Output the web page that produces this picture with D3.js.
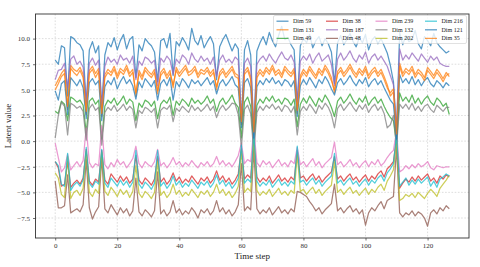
<!DOCTYPE html>
<html>
<head>
<meta charset="utf-8">
<script src="https://cdn.jsdelivr.net/npm/d3@7"></script>
<style>
  body { margin: 0; background: #fff; }
  svg { display: block; font-family: "Liberation Serif", "DejaVu Serif", serif; }
</style>
</head>
<body>
<div id="chart"></div>
<script>
// Latent dimensions over time
const dimNames = ["Dim 59", "Dim 131", "Dim 49", "Dim 38", "Dim 187", "Dim 48",
                  "Dim 239", "Dim 132", "Dim 202", "Dim 216", "Dim 121", "Dim 35"]
const xTicks = [0, 20, 40, 60, 80, 100, 120]
const yTicks = [-7.5, -5.0, -2.5, 0.0, 2.5, 5.0, 7.5, 10.0]

const dim59 = [7.9,7.5,9.3,9.1,4.4,10.2,10.0,9.6,9.4,8.8,3.6,8.9,9.7,8.6,9.3,3.2,
  8.4,9.6,9.2,10.1,8.9,9.8,10.4,9.0,9.9,10.2,6.2,9.4,8.8,10.0,9.6,9.3,
  8.7,5.8,9.8,10.0,9.1,10.5,6.4,9.7,9.3,10.1,9.6,8.9,11.0,9.8,9.4,10.3,
  9.1,9.7,10.2,9.5,6.0,9.2,9.9,10.4,9.6,8.8,9.5,9.0,1.8,8.9,9.8,8.4,
  0.9,8.8,9.6,10.2,9.4,10.6,9.8,9.2,10.3,11.2,9.9,10.1,9.4,8.9,3.5,9.3,
  10.0,9.6,10.4,9.1,9.8,10.2,9.3,10.0,9.5,8.7,5.6,9.6,10.3,9.4,9.9,10.5,
  9.7,9.2,10.1,9.6,10.4,8.9,9.8,10.2,9.5,10.0,9.3,8.6,7.4,5.8,0.8,10.6,
  9.4,10.3,9.7,9.9,10.8,9.5,9.0,10.2,9.8,9.3,10.5,9.6,9.2,8.9,8.6,8.8]
const dim131 = [5.4,6.0,6.6,7.0,3.1,7.4,7.0,6.8,7.2,6.5,2.6,6.9,7.3,6.6,7.1,2.4,
  6.5,7.0,6.7,7.3,6.4,7.1,6.8,7.4,6.6,7.0,4.4,6.9,6.3,7.2,6.8,6.5,
  7.0,4.6,6.7,7.1,6.4,6.9,5.2,7.2,6.6,7.0,7.4,6.7,6.9,7.3,6.5,7.0,
  6.8,7.2,6.6,7.0,5.0,6.7,7.1,6.5,6.9,7.3,6.6,6.4,1.6,6.8,7.2,6.3,
  0.6,6.5,7.0,6.6,7.2,6.8,7.4,6.7,7.0,6.5,7.3,6.9,6.6,7.1,2.7,6.4,
  7.0,6.6,7.3,6.8,6.4,7.1,6.7,7.4,6.9,6.2,4.7,6.8,7.2,6.6,7.0,7.5,
  6.9,6.5,7.1,6.7,7.3,6.4,6.9,7.2,6.6,7.0,6.3,5.5,4.4,4.8,0.4,7.6,
  6.6,7.1,6.8,7.3,6.5,7.0,6.7,6.2,7.2,6.8,6.4,7.0,6.6,6.1,6.7,6.3]
const dim49 = [2.9,2.7,3.9,3.6,2.0,4.3,4.1,3.8,4.0,3.5,0.8,3.9,4.2,3.6,4.0,0.2,
  3.4,4.0,3.7,4.2,3.5,3.9,4.4,3.6,4.1,3.8,2.0,3.7,3.3,4.0,3.8,3.4,
  3.9,2.2,3.6,4.0,3.7,4.3,2.5,3.9,3.5,4.1,3.8,3.4,4.2,3.7,4.0,3.6,
  3.9,4.4,3.7,4.1,2.9,3.8,4.2,3.6,4.0,4.5,3.7,3.3,0.3,3.8,4.3,3.4,
  -0.4,3.5,4.1,3.7,4.3,3.9,4.4,3.8,4.1,3.6,4.2,4.0,3.5,4.1,1.4,3.6,
  4.2,3.7,4.4,3.9,3.4,4.2,3.8,4.5,4.0,3.3,2.4,3.9,4.3,3.7,4.1,4.6,
  4.0,3.6,4.2,3.8,4.4,3.5,4.0,4.3,3.7,4.1,3.4,2.8,2.3,2.0,-0.3,4.7,
  3.9,4.3,3.8,4.5,3.7,4.2,3.6,4.1,4.4,3.8,3.5,4.2,3.9,3.4,3.7,2.6]
const dim38 = [-2.0,-2.6,-4.4,-4.2,-2.0,-4.5,-4.1,-3.8,-4.2,-3.6,-0.8,-3.9,-4.3,-3.7,-4.0,-0.9,
  -3.8,-4.2,-3.2,-3.6,-4.0,-3.4,-3.9,-3.5,-4.1,-3.7,-1.4,-3.8,-4.2,-3.6,-3.9,-4.3,
  -3.7,-1.5,-4.0,-3.6,-4.2,-3.8,-3.1,-3.9,-3.5,-4.1,-3.7,-4.0,-3.4,-3.8,-4.2,-3.6,
  -3.9,-3.5,-4.1,-3.7,-2.9,-3.8,-3.4,-4.0,-3.6,-4.2,-3.8,-3.2,-0.7,-3.7,-3.3,-3.6,
  0.4,-3.5,-4.0,-3.6,-3.9,-3.4,-4.1,-3.7,-3.3,-3.9,-3.6,-4.0,-3.5,-3.8,-0.9,-3.6,
  -3.4,-3.9,-3.5,-3.2,-3.8,-3.4,-4.0,-3.6,-3.3,-3.0,-1.5,-3.7,-3.4,-3.9,-3.5,-3.2,
  -3.8,-3.5,-4.0,-3.6,-3.3,-3.9,-3.4,-3.7,-3.2,-2.9,-3.5,-2.7,-2.4,-2.0,0.3,-4.6,
  -4.1,-3.7,-4.0,-3.5,-3.9,-3.4,-3.8,-3.5,-3.2,-3.9,-3.6,-4.1,-3.4,-3.7,-3.3,-3.5]
const dim187 = [6.0,6.9,7.0,7.6,5.2,8.0,8.3,7.5,7.8,7.2,3.8,7.6,8.1,7.4,7.9,3.5,
  7.3,8.2,7.7,8.0,7.5,8.4,7.9,8.1,7.6,8.3,6.0,7.8,7.4,8.2,8.0,7.6,
  7.9,5.4,8.1,7.7,8.3,7.9,6.5,8.0,7.6,8.4,8.1,7.5,8.6,8.0,7.7,8.3,
  7.8,8.1,7.5,8.2,6.3,7.9,8.4,7.7,8.0,7.6,8.2,7.9,2.2,7.6,8.1,7.3,
  1.4,7.5,8.0,8.3,7.8,8.5,8.0,7.6,8.2,8.7,8.1,7.9,8.4,7.7,3.9,7.8,
  8.3,7.9,8.5,7.6,8.2,8.6,7.8,8.1,8.4,7.5,5.4,8.0,8.6,7.9,8.3,8.8,
  8.1,7.7,8.4,8.0,8.7,7.6,8.2,8.5,7.9,8.3,7.8,7.3,6.4,5.5,1.2,9.0,
  7.9,8.4,8.0,8.6,8.2,7.8,8.5,8.1,7.7,8.3,7.9,8.2,7.6,7.4,7.3,7.3]
const dim48 = [-3.9,-6.5,-6.5,-6.3,-3.3,-7.0,-6.8,-6.6,-6.9,-6.2,-1.8,-6.5,-7.6,-6.9,-6.4,-1.6,
  -6.6,-7.0,-6.2,-6.7,-7.2,-6.5,-7.0,-6.6,-7.3,-6.8,-3.6,-6.9,-7.3,-6.7,-7.0,-7.4,
  -6.8,-3.0,-7.1,-6.7,-7.3,-6.9,-5.8,-7.0,-6.6,-7.2,-6.8,-7.1,-6.5,-6.9,-7.5,-6.7,
  -7.0,-6.6,-7.2,-6.8,-5.8,-6.9,-6.5,-7.1,-6.7,-7.3,-6.9,-6.2,-2.2,-6.8,-6.4,-6.7,
  -0.8,-6.6,-7.1,-6.7,-7.0,-6.5,-7.2,-6.8,-6.4,-7.0,-6.7,-7.1,-6.6,-6.9,-4.9,-5.0,
  -5.2,-5.4,-5.9,-6.3,-6.8,-6.5,-7.1,-6.7,-6.4,-6.1,-4.2,-6.8,-6.5,-7.0,-6.6,-6.3,
  -6.9,-6.6,-7.1,-6.7,-8.2,-7.0,-6.5,-6.8,-6.3,-5.9,-6.6,-5.8,-5.6,-5.4,-0.6,-7.0,
  -7.4,-7.0,-7.2,-6.8,-7.3,-6.9,-7.1,-7.5,-8.3,-7.0,-6.7,-7.1,-6.5,-6.8,-6.3,-6.6]
const dim239 = [-0.2,-1.6,-3.0,-2.6,-1.3,-2.8,-2.4,-2.0,-2.5,-1.9,1.3,-2.1,-2.6,-2.2,-2.4,1.5,
  -2.3,-2.7,-2.1,-2.5,-1.8,-2.3,-2.0,-2.6,-2.2,-1.7,-0.5,-2.2,-2.6,-2.0,-2.3,-2.5,
  -2.0,-0.8,-2.4,-2.1,-2.6,-2.2,-1.6,-2.3,-2.0,-2.5,-2.1,-2.4,-1.9,-2.3,-2.6,-2.1,
  -2.4,-2.0,-2.5,-2.2,-1.5,-2.3,-1.9,-2.4,-2.1,-2.5,-2.0,-1.4,-0.2,-2.2,-1.8,-2.0,
  1.2,-2.1,-2.5,-1.9,-2.3,-2.0,-2.6,-2.2,-1.8,-2.4,-2.1,-2.5,-1.9,-2.2,-0.6,-2.3,
  -2.0,-2.5,-2.1,-1.7,-2.4,-2.0,-2.6,-2.2,-1.9,-1.6,-0.1,-2.3,-2.0,-2.5,-2.2,-1.8,
  -2.4,-2.1,-2.6,-2.2,-1.9,-2.5,-2.0,-2.3,-1.8,-2.4,-2.1,-1.6,-1.2,-0.9,1.0,-3.0,
  -2.8,-2.4,-2.7,-2.3,-2.6,-2.2,-2.5,-2.3,-2.0,-2.6,-2.8,-2.4,-2.5,-2.6,-2.5,-2.5]
const dim132 = [0.3,2.5,3.8,3.4,0.6,3.7,3.5,3.2,3.4,2.9,0.1,3.2,3.6,3.0,3.3,-0.4,
  2.8,3.3,3.0,3.5,2.9,3.2,3.6,3.0,3.4,3.1,1.3,3.0,2.7,3.3,3.1,2.8,
  3.2,1.3,3.0,3.3,3.1,3.5,1.9,3.2,2.9,3.4,3.1,2.8,3.5,3.0,3.3,2.9,
  3.2,3.6,3.0,3.4,2.3,3.1,3.5,3.0,3.3,3.7,3.6,2.6,-0.6,3.1,3.5,2.7,
  -1.1,2.8,3.4,3.0,3.5,3.2,3.6,3.1,3.4,2.9,3.5,3.3,2.8,3.4,0.6,2.9,
  3.4,3.0,3.6,3.2,2.7,3.5,3.1,3.7,3.3,2.6,1.3,3.2,3.6,3.0,3.4,3.8,
  3.3,2.9,3.5,3.1,3.6,2.8,3.3,3.6,3.0,3.4,2.7,1.3,1.6,2.5,-0.6,3.6,
  3.2,3.6,3.1,3.7,3.0,3.4,2.9,3.4,3.6,3.1,2.8,3.5,3.2,2.9,3.3,3.3]
const dim202 = [-3.1,-3.6,-5.2,-5.5,-1.5,-5.6,-5.0,-4.8,-5.3,-4.6,-1.0,-5.0,-5.4,-4.7,-5.1,-1.1,
  -4.9,-5.3,-4.5,-4.9,-5.4,-4.7,-5.2,-4.8,-5.5,-4.9,-2.4,-5.1,-5.5,-4.9,-5.2,-5.6,
  -5.0,-2.0,-5.3,-4.9,-5.5,-5.1,-4.2,-5.2,-4.8,-5.4,-5.0,-5.3,-4.7,-5.1,-5.5,-4.9,
  -5.2,-4.8,-5.4,-5.0,-4.2,-5.1,-4.7,-5.3,-4.9,-5.5,-5.1,-4.4,-0.9,-5.0,-4.6,-4.9,
  0.2,-4.8,-5.3,-4.9,-5.2,-4.7,-5.4,-5.0,-4.6,-5.2,-4.9,-5.3,-4.8,-5.1,-1.3,-4.9,
  -4.7,-5.2,-4.8,-4.5,-5.1,-4.7,-5.3,-4.9,-4.6,-4.3,-2.0,-5.0,-4.7,-5.2,-4.8,-4.5,
  -5.1,-4.8,-5.3,-4.9,-4.6,-5.2,-4.7,-5.0,-4.5,-4.2,-4.8,-3.9,-3.4,-2.8,0.0,-5.8,
  -5.6,-5.2,-5.4,-5.1,-5.5,-5.0,-5.3,-5.6,-5.1,-4.7,-5.0,-5.4,-4.6,-4.2,-3.8,-3.3]
const dim216 = [-2.0,-2.4,-4.2,-4.4,-1.2,-4.8,-4.3,-4.0,-4.4,-3.8,-0.6,-4.1,-4.5,-3.9,-4.2,-0.8,
  -4.1,-4.5,-3.6,-4.0,-4.4,-3.8,-4.3,-3.9,-4.5,-4.0,-0.9,-4.2,-4.6,-4.0,-4.3,-4.7,
  -4.1,-0.9,-4.4,-4.0,-4.6,-4.2,-3.4,-4.3,-3.9,-4.5,-4.1,-4.4,-3.8,-4.2,-4.6,-4.0,
  -4.3,-3.9,-4.5,-4.1,-3.3,-4.2,-3.8,-4.4,-4.0,-4.6,-4.2,-3.6,-0.4,-4.1,-3.7,-4.0,
  0.8,-3.9,-4.4,-4.0,-4.3,-3.8,-4.5,-4.1,-3.7,-4.3,-4.0,-4.4,-3.9,-4.2,-0.5,-4.0,
  -3.8,-4.3,-3.9,-3.6,-4.2,-3.8,-4.4,-4.0,-3.7,-3.4,-1.2,-4.1,-3.8,-4.3,-3.9,-3.6,
  -4.2,-3.9,-4.4,-4.0,-3.7,-4.3,-3.8,-4.1,-3.6,-3.3,-3.9,-3.1,-2.7,-2.2,0.6,-4.4,
  -4.0,-3.6,-4.3,-3.8,-4.2,-3.7,-4.1,-3.8,-3.5,-4.4,-3.9,-4.5,-3.7,-3.5,-3.2,-3.4]
const dim121 = [4.9,4.0,5.6,5.9,2.6,6.2,5.8,5.4,6.0,5.2,2.2,5.7,6.1,5.5,5.9,2.0,
  5.3,5.9,5.5,6.2,5.1,5.8,6.3,5.6,6.0,5.4,4.1,5.8,5.2,6.1,5.7,5.3,
  5.9,4.0,5.6,6.0,5.4,6.2,4.0,5.8,5.3,6.1,5.7,5.2,6.0,5.6,5.9,5.4,
  5.8,6.2,5.5,5.9,4.6,5.6,6.0,5.4,5.8,6.3,5.5,5.2,1.3,5.7,6.1,5.2,
  0.3,5.3,5.9,5.5,6.1,5.7,6.2,5.6,5.9,5.4,6.0,5.8,5.3,5.9,2.4,5.4,
  6.0,5.5,6.2,5.7,5.2,6.0,5.6,6.3,5.8,5.1,4.5,5.7,6.1,5.5,5.9,6.4,
  5.8,5.4,6.0,5.6,6.2,5.3,5.8,6.1,5.5,5.9,5.2,4.6,4.0,3.6,0.2,6.5,
  5.7,6.1,5.6,6.3,5.5,6.0,5.4,5.9,6.2,5.6,5.3,5.9,5.6,5.2,5.7,5.4]
const dim35 = [5.0,5.6,6.3,6.6,3.4,7.1,6.7,6.4,6.9,6.2,2.9,6.6,7.0,6.2,6.8,2.7,
  6.2,6.7,6.4,7.0,6.1,6.8,6.5,7.1,6.3,6.7,4.7,6.6,6.0,6.9,6.5,6.2,
  6.7,4.9,6.4,6.8,6.1,6.6,5.5,6.9,6.3,6.7,7.1,6.4,6.6,7.0,6.2,6.7,
  6.5,6.9,6.3,6.7,5.3,6.4,6.8,6.2,6.6,7.0,6.3,6.1,1.9,6.5,6.9,6.0,
  0.9,6.2,6.7,6.3,6.9,6.5,7.1,6.4,6.7,6.2,7.0,6.6,6.3,6.8,3.0,6.1,
  6.7,6.3,7.0,6.5,6.1,6.8,6.4,7.1,6.6,5.9,5.0,6.5,6.9,6.3,6.7,7.2,
  6.6,6.2,6.8,6.4,7.0,6.1,6.6,6.9,6.3,6.7,6.0,5.2,4.7,5.1,0.7,7.3,
  6.3,6.8,6.5,7.0,6.2,6.7,6.4,5.9,6.9,6.5,6.1,6.7,6.3,5.8,6.4,6.6]

const seriesValues = [dim59, dim131, dim49, dim38, dim187, dim48,
                      dim239, dim132, dim202, dim216, dim121, dim35]

function drawLatentChart(container) {
    const width = 480, height = 267
    const margin = {top: 14, right: 11, bottom: 29, left: 35.5}

    const svg = d3.select(container).append("svg")
        .attr("width", width)
        .attr("height", height)

    // matplotlib tab10, cycled for the last two series
    const colour = d3.scaleOrdinal(dimNames, d3.schemeCategory10.concat(d3.schemeCategory10))

    const x = d3.scaleLinear().domain([-6.35, 133.35]).range([margin.left, width - margin.right])
    const y = d3.scaleLinear().domain([-9.45, 12.4]).range([height - margin.bottom, margin.top])

    const fmt = v => d3.format(".1f")(v).replace("-", "\u2212")

    // grid
    const grid = svg.append("g").attr("stroke", "#b0b0b0").attr("stroke-width", 0.6)
        .attr("stroke-dasharray", "1.6,1.6").attr("opacity", 0.7)
    grid.selectAll(".gx").data(xTicks).join("line")
        .attr("x1", d => x(d)).attr("x2", d => x(d))
        .attr("y1", margin.top).attr("y2", height - margin.bottom)
    grid.selectAll(".gy").data(yTicks).join("line")
        .attr("x1", margin.left).attr("x2", width - margin.right)
        .attr("y1", d => y(d)).attr("y2", d => y(d))

    // lines
    const line = d3.line()
        .x((d, i) => x(i))
        .y(d => y(d))

    svg.append("g").selectAll("path")
        .data(seriesValues)
        .join("path")
        .attr("fill", "none")
        .attr("stroke", (d, i) => colour(dimNames[i]))
        .attr("stroke-width", 1.25)
        .attr("stroke-linejoin", "round")
        .attr("opacity", 0.75)
        .attr("d", line)

    // axes
    const xAxis = svg.append("g")
        .attr("transform", `translate(0,${height - margin.bottom})`)
        .call(d3.axisBottom(x).tickValues(xTicks).tickSize(2.5).tickPadding(3))
    const yAxis = svg.append("g")
        .attr("transform", `translate(${margin.left},0)`)
        .call(d3.axisLeft(y).tickValues(yTicks).tickFormat(fmt).tickSize(2.5).tickPadding(3))

    for (const ax of [xAxis, yAxis]) {
        ax.select(".domain").remove()
        ax.selectAll("line").attr("stroke", "#333").attr("stroke-width", 0.7)
        ax.selectAll("text").attr("font-family", "Liberation Serif, serif")
            .attr("font-size", 7).attr("fill", "#333")
    }

    // frame
    svg.append("rect")
        .attr("x", margin.left).attr("y", margin.top)
        .attr("width", width - margin.left - margin.right)
        .attr("height", height - margin.top - margin.bottom)
        .attr("fill", "none").attr("stroke", "#333").attr("stroke-width", 0.9)

    // axis titles
    svg.append("text")
        .attr("x", (margin.left + width - margin.right) / 2)
        .attr("y", 259)
        .attr("text-anchor", "middle")
        .attr("font-size", 9).attr("fill", "#222")
        .text("Time step")
    svg.append("text")
        .attr("transform", `translate(11,${(margin.top + height - margin.bottom) / 2}) rotate(-90)`)
        .attr("text-anchor", "middle")
        .attr("font-size", 9).attr("fill", "#222")
        .text("Latent value")

    // legend: 4 columns, filled column by column
    const legend = svg.append("g")
    legend.append("rect")
        .attr("x", 273.5).attr("y", 15.5).attr("width", 193).attr("height", 28)
        .attr("rx", 1.5)
        .attr("fill", "#fff").attr("fill-opacity", 0.8)
        .attr("stroke", "#ccc").attr("stroke-width", 0.6)

    const colX = [276.5, 326, 375.5, 425]
    const rowY = [21.2, 29.8, 38.4]
    const item = legend.selectAll("g.item")
        .data(dimNames)
        .join("g")
        .attr("transform", (d, i) => `translate(${colX[Math.floor(i / 3)]},${rowY[i % 3]})`)
    item.append("line")
        .attr("x1", 0).attr("x2", 12)
        .attr("stroke", d => colour(d)).attr("stroke-width", 1.25).attr("opacity", 0.75)
    item.append("text")
        .attr("x", 16.5).attr("dy", "0.33em")
        .attr("font-size", 6).attr("fill", "#222")
        .text(d => d)
}

drawLatentChart("#chart")
</script>
</body>
</html>
